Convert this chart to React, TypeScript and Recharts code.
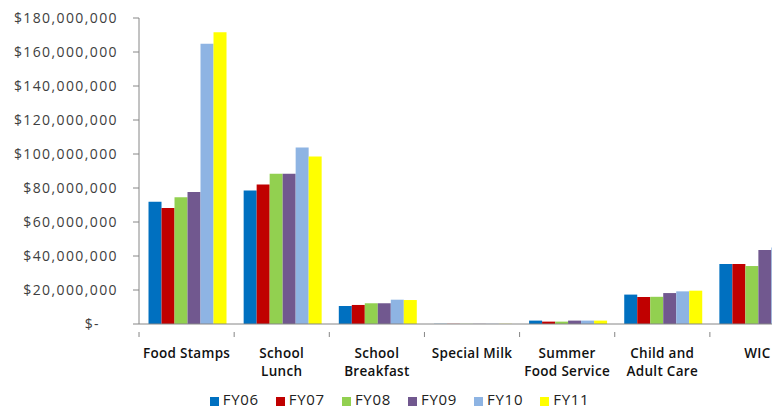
import { Bar, BarChart, Legend, XAxis, YAxis } from "recharts"

const categories = [
  "Food Stamps",
  "School Lunch",
  "School Breakfast",
  "Special Milk",
  "Summer Food Service",
  "Child and Adult Care",
  "WIC",
]

const categoryLines = [
  ["Food Stamps"],
  ["School", "Lunch"],
  ["School", "Breakfast"],
  ["Special Milk"],
  ["Summer", "Food Service"],
  ["Child and", "Adult Care"],
  ["WIC"],
]

const years = ["FY06", "FY07", "FY08", "FY09", "FY10", "FY11"]
const colors = ["#0070C0", "#C00000", "#92D050", "#71588F", "#8EB4E3", "#FFFF00"]

// millions of dollars
const fy06 = [71.9, 78.5, 10.6, 0.1, 2.0, 17.3, 35.3]
const fy07 = [68.2, 82.0, 11.2, 0.1, 1.4, 15.9, 35.3]
const fy08 = [74.5, 88.4, 12.2, 0.1, 1.4, 16.0, 34.1]
const fy09 = [77.6, 88.4, 12.2, 0.1, 2.0, 18.2, 43.6]
const fy10 = [164.9, 103.8, 14.3, 0.1, 2.0, 19.2, 45.0]
const fy11 = [171.6, 98.5, 14.1, 0.1, 2.0, 19.6, 46.0]

const yTicks = [0, 20, 40, 60, 80, 100, 120, 140, 160, 180].map((v) => v * 1e6)

const series = [fy06, fy07, fy08, fy09, fy10, fy11]
const dataset = categories.map((name, i) => {
  const row: Record<string, string | number> = { name }
  years.forEach((y, s) => {
    row[y] = series[s][i] * 1e6
  })
  return row
})

const FONT = "'Open Sans', sans-serif"
const AXIS = "#868686"
const BAND = 95.1

function YTick({ x, y, payload }: any) {
  const v = payload.value as number
  const label = v === 0 ? "$-" : "$" + v.toLocaleString("en-US")
  return (
    <text
      x={v === 0 ? x - 18 : x}
      y={y}
      dy="0.36em"
      textAnchor="end"
      fill="#404040"
      fontSize={14}
      letterSpacing={1.4}
      fontFamily={FONT}
    >
      {label}
    </text>
  )
}

function XTick({ x, y, payload, index }: any) {
  const lines = categoryLines[index] ?? [payload.value]
  const left = x - BAND / 2
  return (
    <g>
      <line x1={left} y1={y} x2={left} y2={y + 5} stroke={AXIS} />
      {index === categories.length - 1 && (
        <line x1={x + BAND / 2} y1={y} x2={x + BAND / 2} y2={y + 5} stroke={AXIS} />
      )}
      <text
        x={x}
        y={y + 26}
        textAnchor="middle"
        fill="#111"
        fontSize={13.5}
        fontWeight={600}
        letterSpacing={0.3}
        fontFamily={FONT}
      >
        {lines.map((l: string, i: number) => (
          <tspan key={i} x={x} dy={i === 0 ? 0 : 18}>
            {l}
          </tspan>
        ))}
      </text>
    </g>
  )
}

export default function App() {
  return (
    <div
      style={{
        position: "absolute",
        left: 0,
        top: 0,
        width: 772,
        height: 409,
        overflow: "hidden",
        background: "#fff",
      }}
    >
      <BarChart
        width={852}
        height={409}
        data={dataset}
        margin={{ top: 18, right: 47, left: 0, bottom: 0 }}
        barCategoryGap="10%"
        barGap={0}
      >
        <XAxis
          dataKey="name"
          height={85}
          interval={0}
          tickLine={false}
          stroke={AXIS}
          tick={<XTick />}
        />
        <YAxis
          width={139}
          domain={[0, 180e6]}
          ticks={yTicks}
          interval={0}
          tickSize={6}
          tickMargin={15}
          stroke={AXIS}
          tick={<YTick />}
        />
        <Legend
          verticalAlign="middle"
          align="center"
          iconType="square"
          iconSize={9}
          wrapperStyle={{ top: 389, left: 208, width: 400 }}
          formatter={(value) => (
            <span
              style={{
                color: "#222",
                fontFamily: FONT,
                fontSize: 15,
                letterSpacing: 0.7,
                marginRight: 7,
              }}
            >
              {value}
            </span>
          )}
        />
        {years.map((y, i) => (
          <Bar
            key={y}
            dataKey={y}
            fill={colors[i]}
            isAnimationActive={false}
          />
        ))}
      </BarChart>
    </div>
  )
}
